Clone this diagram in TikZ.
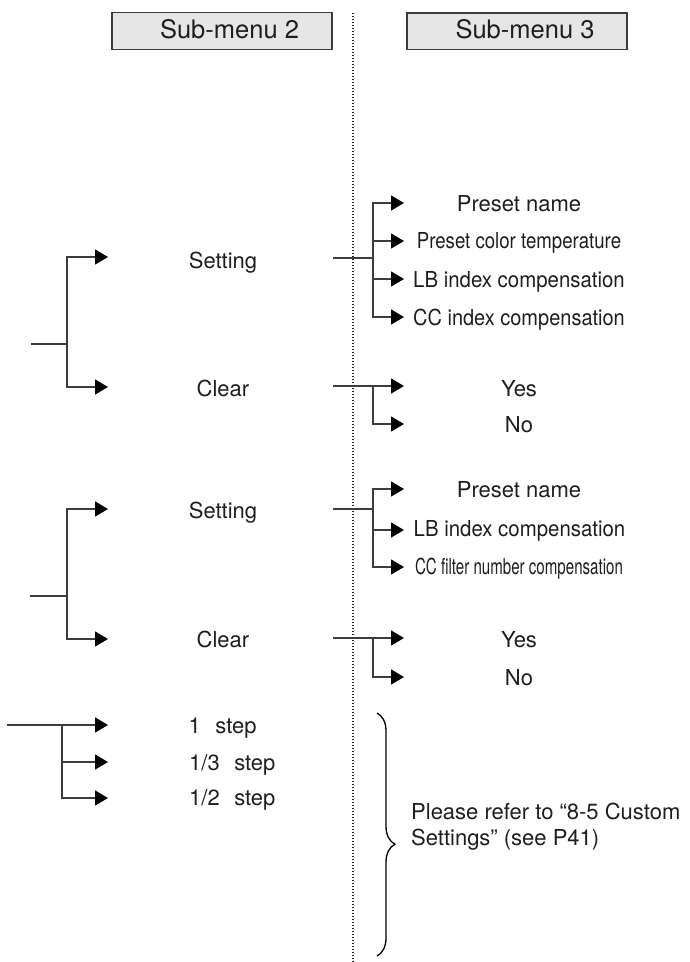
\documentclass[tikz,border=0pt]{standalone}
\usepackage{fontspec}
\setmainfont{TeX Gyre Heros}
\usepackage{graphicx}
\usetikzlibrary{arrows.meta,decorations.pathreplacing}
\definecolor{linegray}{HTML}{3C3C3C}
\definecolor{boxfill}{HTML}{E6E6E6}
\definecolor{txt}{HTML}{1E1E1E}
\begin{document}
\begin{tikzpicture}[x=1pt,y=-1pt,
  conn/.style={draw=linegray,line width=1.3pt},
  arr/.style={conn,-{Triangle[length=13pt,width=15pt,color=black]}},
  lbl/.style={inner sep=0pt,anchor=base,text=txt,font=\fontsize{22}{26}\selectfont},
  lblw/.style={lbl,anchor=base west},
  hdrbox/.style={draw=linegray,fill=boxfill,line width=1.2pt,minimum width=220pt,minimum height=36.5pt,inner sep=0pt},
  hdr/.style={inner sep=0pt,anchor=base,text=txt,font=\fontsize{25.5}{30}\selectfont},
  dots/.style={draw=black!85,line width=1.3pt,dash pattern=on 1.2pt off 1.8pt},
  bracestyle/.style={draw=black,line width=1.3pt,decorate,decoration={brace,amplitude=18pt,aspect=0.54}}
]
\useasboundingbox (0,0) rectangle (690,962);

% headers
\node[hdrbox] (hb2) at (222,31) {};
\node[hdr] (h2) at (229.5,38.3) {Sub-menu 2};
\node[hdrbox] (hb3) at (517,31.2) {};
\node[hdr] (h3) at (525,38.3) {Sub-menu 3};

% dotted divider
\coordinate (dtop) at (353,13);
\coordinate (dbot) at (353,962);
\draw[dots] (dtop) -- (dbot);

% ---------- group 1 ----------
\coordinate (g1s) at (31,344);
\coordinate (g1b) at (67,344);
\coordinate (g1t1) at (108,257);
\coordinate (g1t2) at (108,387);
\node[lbl] (set1) at (223,268) {Setting};
\node[lbl] (clr1) at (223,396) {Clear};
\draw[conn] (g1s) -- (g1b);
\draw[arr] (g1b) |- (g1t1);
\draw[arr] (g1b) |- (g1t2);

% setting 1 -> sub-menu 3
\coordinate (s1a) at (333,258);
\coordinate (s1b) at (373,258);
\coordinate (s1t1) at (404,203);
\coordinate (s1t2) at (404,241);
\coordinate (s1t3) at (404,279);
\coordinate (s1t4) at (404,317);
\draw[conn] (s1a) -- (s1b);
\draw[arr] (s1b) |- (s1t1);
\draw[arr] (s1b) |- (s1t2);
\draw[arr] (s1b) |- (s1t3);
\draw[arr] (s1b) |- (s1t4);
\node[lbl] (pn1) at (519,211) {Preset name};
\node[lbl] (pct1) at (519,248) {\scalebox{0.847}[1]{Preset color temperature}};
\node[lbl] (lb1) at (519,287) {\scalebox{0.927}[1]{LB index compensation}};
\node[lbl] (cc1) at (519,325) {\scalebox{0.908}[1]{CC index compensation}};

% clear 1 -> yes/no
\coordinate (c1a) at (333,386);
\coordinate (c1b) at (373,386);
\coordinate (c1t1) at (404,386);
\coordinate (c1t2) at (404,424);
\draw[conn] (c1a) -- (c1b);
\draw[arr] (c1b) -- (c1t1);
\draw[arr] (c1b) |- (c1t2);
\node[lbl] (yes1) at (519,396) {Yes};
\node[lbl] (no1) at (519,432) {No};

% ---------- group 2 ----------
\coordinate (g2s) at (30,596);
\coordinate (g2b) at (67,596);
\coordinate (g2t1) at (108,509);
\coordinate (g2t2) at (108,639);
\node[lbl] (set2) at (223,518.5) {Setting};
\node[lbl] (clr2) at (223,647) {Clear};
\draw[conn] (g2s) -- (g2b);
\draw[arr] (g2b) |- (g2t1);
\draw[arr] (g2b) |- (g2t2);

\coordinate (s2a) at (333,509);
\coordinate (s2b) at (373,509);
\coordinate (s2t1) at (404,489);
\coordinate (s2t2) at (404,530);
\coordinate (s2t3) at (404,567);
\draw[conn] (s2a) -- (s2b);
\draw[arr] (s2b) |- (s2t1);
\draw[arr] (s2b) |- (s2t2);
\draw[arr] (s2b) |- (s2t3);
\node[lbl] (pn2) at (519,497) {Preset name};
\node[lbl] (lb2) at (519.5,536) {\scalebox{0.927}[1]{LB index compensation}};
\node[lbl] (cf2) at (519,574) {\scalebox{0.686}[1]{CC filter number compensation}};

\coordinate (c2a) at (333,638);
\coordinate (c2b) at (373,638);
\coordinate (c2t1) at (404,638);
\coordinate (c2t2) at (404,677);
\draw[conn] (c2a) -- (c2b);
\draw[arr] (c2b) -- (c2t1);
\draw[arr] (c2b) |- (c2t2);
\node[lbl] (yes2) at (519,647) {Yes};
\node[lbl] (no2) at (519,685) {No};

% ---------- group 3 ----------
\coordinate (g3s) at (7,725);
\coordinate (g3b) at (62,725);
\coordinate (g3t1) at (108,725);
\coordinate (g3t2) at (108,762);
\coordinate (g3t3) at (108,798);
\draw[conn] (g3s) -- (g3b);
\draw[arr] (g3b) -- (g3t1);
\draw[arr] (g3b) |- (g3t2);
\draw[arr] (g3b) |- (g3t3);
\node[lblw] (st1) at (188.5,733) {1\hspace{14.5pt}step};
\node[lblw] (st2) at (189,770) {1/3\hspace{14.5pt}step};
\node[lblw] (st3) at (189,805) {1/2\hspace{14.5pt}step};

% brace + note
\coordinate (brtop) at (377,713);
\coordinate (brbot) at (377,956);
\draw[bracestyle] (brtop) -- (brbot);
\node[lblw,align=left] (note) at (411,845) {Please refer to “8-5 Custom\\Settings” (see P41)};

\end{tikzpicture}
\end{document}
